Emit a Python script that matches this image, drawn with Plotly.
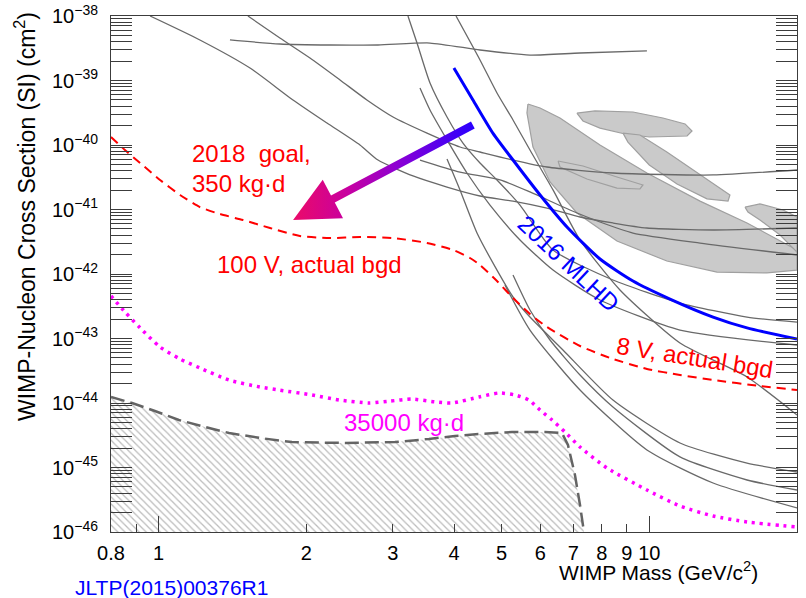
import math
import plotly.graph_objects as go

# ---------------- data (WIMP mass in GeV/c^2, cross section in cm^2) ----------------
RED_M = [0.8, 0.854, 0.917, 1.007, 1.106, 1.214, 1.334, 1.486, 1.687, 1.941, 2.235, 2.573, 3.005,
         3.524, 3.981, 4.311, 4.519, 4.894, 5.276, 5.713, 6.187, 7.225, 8.316, 9.89, 11.55, 13.49, 16.81, 20]
RED_S = [1.33e-40, 8.36e-41, 5.26e-41, 2.87e-41, 1.68e-41, 1.09e-41, 8.51e-42, 6.87e-42, 5.16e-42,
         3.88e-42, 3.61e-42, 3.75e-42, 3.61e-42, 3.03e-42, 2.36e-42, 1.77e-42, 1.38e-42, 7.79e-43,
         4.25e-43, 2.40e-43, 1.51e-43, 7.65e-44, 4.99e-44, 3.37e-44, 2.72e-44, 2.27e-44, 1.84e-44, 1.59e-44]

MAG_M = [0.8, 0.854, 0.917, 1.007, 1.106, 1.214, 1.392, 1.609, 1.759, 2.054, 2.343, 2.684, 2.962, 3.284,
         3.659, 3.963, 4.498, 4.94, 5.326, 5.686, 5.99, 6.336, 6.733, 7.225, 8.2, 9.89, 11.55, 13.49, 15.82, 20]
MAG_S = [4.56e-43, 2.58e-43, 1.46e-43, 7.38e-44, 4.81e-44, 3.49e-44, 2.27e-44, 1.77e-44, 1.59e-44, 1.33e-44,
         1.11e-44, 1.0e-44, 1.07e-44, 1.15e-44, 1.04e-44, 1.0e-44, 1.24e-44, 1.43e-44, 1.33e-44, 1.11e-44,
         7.78e-45, 5.45e-45, 3.55e-45, 2.08e-45, 9.82e-46, 4.48e-46, 2.53e-46, 1.77e-46, 1.43e-46, 1.20e-46]

FLOOR_M = [0.8, 0.883, 0.983, 1.10, 1.243, 1.392, 1.609, 1.870, 2.398, 3.032, 3.557, 4.018, 4.498,
           5.251, 6.131, 6.639, 6.828, 7.056, 7.225, 7.36]
FLOOR_S = [1.24e-44, 1.0e-44, 7.52e-45, 5.45e-45, 4.25e-45, 3.43e-45, 2.87e-45, 2.48e-45, 2.40e-45,
           2.48e-45, 2.77e-45, 3.08e-45, 3.30e-45, 3.55e-45, 3.55e-45, 3.43e-45, 2.23e-45, 7.65e-46,
           2.62e-46, 1.0e-46]

MLHD_M = [3.998, 4.372, 4.80, 5.276, 5.99, 6.797, 7.935, 9.264, 11.02, 13.49, 15.82, 20]
MLHD_S = [1.56e-39, 4.99e-40, 1.53e-40, 5.85e-41, 1.68e-41, 5.36e-42, 1.71e-42, 7.79e-43, 4.09e-43,
          2.15e-43, 1.46e-43, 9.82e-44]

# other experiments (gray)
G1_M = [0.961, 1.214, 1.536, 1.879, 2.204, 2.573, 2.800, 3.300, 3.871, 4.519, 5.276, 6.187, 7.225, 8.433, 9.89, 13.49, 20]
G1_S = [1.0e-38, 4.25e-39, 1.56e-39, 4.99e-40, 2.19e-40, 1.0e-40, 5.85e-41, 3.31e-41, 2.23e-41, 1.62e-41,
        1.35e-41, 1.05e-41, 7.65e-42, 6.18e-42, 5.17e-42, 4.81e-42, 5.17e-42]
G2_M = [1.398, 1.767, 2.235, 2.800, 3.574, 4.519, 5.713, 7.225, 9.89]
G2_S = [4.25e-39, 3.68e-39, 3.55e-39, 3.55e-39, 3.81e-39, 2.97e-39, 2.48e-39, 2.67e-39, 2.87e-39]
G3_M = [1.521, 1.767, 2.035, 2.343, 2.658, 3.005, 3.524, 4.114, 4.519, 5.276, 6.187, 8.433, 13.49, 20]
G3_S = [1.0e-38, 4.56e-39, 2.23e-39, 1.02e-39, 4.99e-40, 2.72e-40, 1.53e-40, 9.31e-41, 7.79e-41, 5.85e-41,
        4.56e-41, 3.68e-41, 3.43e-41, 4.10e-41]
G4_M = [3.410, 4.114, 4.964, 5.713, 6.893, 7.935, 9.264, 12.69, 20]
G4_S = [5.85e-41, 3.81e-41, 2.87e-41, 1.87e-41, 9.82e-42, 6.40e-42, 4.32e-42, 3.02e-42, 1.97e-42]
G5_M = [3.223, 3.363, 3.574, 3.871, 4.172, 4.519, 4.894, 5.452, 6.366, 8.433, 11.55, 15.82, 20]
G5_S = [1.0e-38, 3.81e-39, 9.15e-40, 2.72e-40, 1.07e-40, 5.26e-41, 2.87e-41, 1.17e-41, 2.36e-42, 8.07e-43,
        3.55e-43, 2.15e-43, 1.80e-43]
G6_M = [4.038, 4.519, 4.894, 5.276, 5.713, 6.366, 7.225, 8.715, 11.55, 15.82, 20]
G6_S = [1.0e-38, 2.08e-39, 6.40e-40, 2.44e-40, 8.36e-41, 2.01e-41, 3.37e-42, 5.65e-43, 8.51e-44, 2.53e-44, 6.52e-45]
G7_M = [3.871, 4.114, 4.456, 4.894, 5.276, 5.713, 6.670, 8.433, 11.55, 15.82, 20]
G7_S = [6.07e-41, 2.01e-41, 4.32e-42, 1.15e-42, 4.40e-43, 2.15e-43, 6.63e-44, 1.11e-44, 2.40e-45, 1.17e-45, 8.51e-46]
G8_M = [5.276, 5.713, 6.276, 7.225, 8.433, 11.55, 15.82, 20]
G8_S = [9.65e-43, 2.77e-43, 9.48e-44, 2.72e-44, 8.67e-45, 1.46e-45, 6.40e-46, 4.48e-46]
G9_M = [5.08, 5.713, 7.225, 9.89, 13.49, 20]
G9_S = [6.75e-43, 1.35e-43, 1.59e-44, 1.87e-45, 5.75e-46, 2.36e-46]
G10_M = [3.410, 3.574, 3.871, 4.251, 4.736, 5.452, 6.366, 7.935, 11.55, 20]
G10_S = [7.65e-40, 3.49e-40, 1.20e-40, 3.68e-41, 1.17e-41, 3.37e-42, 1.15e-42, 3.95e-43, 1.35e-43, 7.93e-44]

# signal regions (closed contours)
R1_M = [5.659, 5.99, 6.577, 7.935, 9.89, 12.69, 15.82, 20, 20, 17.37, 13.74, 10.86, 8.593, 7.121, 6.276, 5.794, 5.633]
R1_S = [4.32e-40, 3.75e-40, 2.62e-40, 1.0e-40, 3.68e-41, 1.35e-41, 6.18e-42, 2.36e-42, 1.15e-42, 1.04e-42,
        1.07e-42, 1.59e-42, 3.25e-42, 8.83e-42, 2.67e-41, 9.31e-41, 3.13e-40]
R2_M = [7.121, 7.75, 9.264, 10.66, 11.83, 12.22, 11.94, 10.0, 8.923, 7.935, 7.326]
R2_S = [3.13e-40, 3.37e-40, 3.25e-40, 2.62e-40, 2.12e-40, 1.65e-40, 1.38e-40, 1.33e-40, 1.48e-40, 1.83e-40, 2.36e-40]
R3_M = [8.840, 9.572, 10.86, 12.69, 14.60, 14.47, 13.11, 11.39, 10.0, 9.046]
R3_S = [1.53e-40, 1.43e-40, 7.79e-41, 3.43e-41, 1.68e-41, 1.35e-41, 1.46e-41, 2.48e-41, 4.90e-41, 1.11e-40]
R4_M = [15.67, 16.81, 18.73, 20, 20, 18.47, 16.81, 15.89]
R4_S = [1.09e-41, 1.22e-41, 9.82e-42, 7.65e-42, 2.19e-42, 4.02e-42, 6.87e-42, 9.15e-42]
R5_M = [6.517, 7.326, 8.593, 9.707, 9.572, 8.593, 7.464, 6.577]
R5_S = [5.65e-41, 4.72e-41, 3.19e-41, 2.40e-41, 2.08e-41, 2.15e-41, 2.97e-41, 4.56e-41]

X_TICKS = [0.8, 0.9, 1, 2, 3, 4, 5, 6, 7, 8, 9, 10, 20]
X_TICKTEXT = ["0.8", "", "1", "2", "3", "4", "5", "6", "7", "8", "9", "10", "20"]
X_MAJOR = [1, 10]
X_RANGE = (0.8, 20)
Y_DECADES = list(range(-46, -37))          # 10^-46 ... 10^-38

# arrow (annotation) end points in data units
ARROW_TAIL = (4.37, 2.04e-40)
ARROW_TIP = (1.88, 6.87e-42)

# ---------------- layout geometry ----------------
W, H = 806, 598
L, R, T, B = 111, 797, 16, 532
FONT = "Liberation Sans, Arial, Helvetica, sans-serif"

lx0, lx1 = math.log10(X_RANGE[0]), math.log10(X_RANGE[1])
ly0, ly1 = Y_DECADES[0], Y_DECADES[-1]
Y_MIN = 10.0 ** ly0
Y_TICKVALS = [10.0 ** e for e in Y_DECADES]
Y_TICKTEXT = ["10<sup>\u2212%d</sup>" % (-e) for e in Y_DECADES]
Y_MINOR = [k * 10.0 ** e for e in Y_DECADES[:-1] for k in range(2, 10)]


def d2p(m, s):
    px = L + (math.log10(m) - lx0) / (lx1 - lx0) * (R - L)
    py = B - (math.log10(s) - ly0) / (ly1 - ly0) * (B - T)
    return px, py


def p2d(px, py):
    m = 10 ** (lx0 + (px - L) / (R - L) * (lx1 - lx0))
    s = 10 ** (ly0 + (B - py) / (B - T) * (ly1 - ly0))
    return m, s


def paper(px, py):
    return (px - L) / (R - L), (B - py) / (B - T)


GRAY = "rgb(105,105,105)"
fig = go.Figure()

# hatched excluded region (neutrino floor)
fig.add_trace(go.Scatter(
    x=FLOOR_M + [X_RANGE[0]], y=FLOOR_S + [Y_MIN], mode="none", fill="toself",
    fillcolor="rgba(0,0,0,0)",
    fillpattern=dict(shape="\\", fgcolor="rgb(120,120,120)", bgcolor="white", size=5, solidity=0.25),
    hoverinfo="skip", showlegend=False))

# signal regions
for rm, rs in [(R1_M, R1_S), (R2_M, R2_S), (R3_M, R3_S), (R4_M, R4_S), (R5_M, R5_S)]:
    fig.add_trace(go.Scatter(x=rm + rm[:1], y=rs + rs[:1], mode="lines", fill="toself",
                             fillcolor="rgb(202,202,202)", line=dict(color="rgb(160,160,160)", width=1.2),
                             hoverinfo="skip", showlegend=False))

# gray limit curves
for gm, gs in [(G1_M, G1_S), (G2_M, G2_S), (G3_M, G3_S), (G4_M, G4_S), (G5_M, G5_S), (G6_M, G6_S),
               (G7_M, G7_S), (G8_M, G8_S), (G9_M, G9_S), (G10_M, G10_S)]:
    fig.add_trace(go.Scatter(x=gm, y=gs, mode="lines", line=dict(color=GRAY, width=1.3, shape="spline", smoothing=0.6),
                             hoverinfo="skip", showlegend=False))

# floor dashed curve
fig.add_trace(go.Scatter(x=FLOOR_M, y=FLOOR_S, mode="lines",
                         line=dict(color="rgb(100,100,100)", width=2.5, dash="14px,6px"),
                         hoverinfo="skip", showlegend=False))

# magenta projection
fig.add_trace(go.Scatter(x=MAG_M, y=MAG_S, mode="lines",
                         line=dict(color="rgb(255,0,255)", width=3.5, dash="3px,5px", shape="spline", smoothing=0.6),
                         hoverinfo="skip", showlegend=False))
# red projection
fig.add_trace(go.Scatter(x=RED_M, y=RED_S, mode="lines",
                         line=dict(color="rgb(255,0,0)", width=2, dash="9px,6px", shape="spline", smoothing=0.6),
                         hoverinfo="skip", showlegend=False))
# blue 2016 MLHD (on overlay axis x2, identical scale)
fig.add_trace(go.Scatter(x=MLHD_M, y=MLHD_S, mode="lines", xaxis="x2",
                         line=dict(color="rgb(0,0,255)", width=3, shape="spline", smoothing=0.6),
                         hoverinfo="skip", showlegend=False))

# gradient arrow
sx, sy = d2p(*ARROW_TAIL)
tx, ty = d2p(*ARROW_TIP)
ln = math.hypot(tx - sx, ty - sy)
dx, dy = (tx - sx) / ln, (ty - sy) / ln
nx, ny = -dy, dx
hw, hh, hl = 4.0, 21.7, 45.0
bx, by = tx - dx * hl, ty - dy * hl
pts = [(sx + nx * hw, sy + ny * hw), (bx + nx * hw, by + ny * hw), (bx + nx * hh, by + ny * hh), (tx, ty),
       (bx - nx * hh, by - ny * hh), (bx - nx * hw, by - ny * hw), (sx - nx * hw, sy - ny * hw),
       (sx + nx * hw, sy + ny * hw)]
ad = [p2d(px, py) for px, py in pts]
fig.add_trace(go.Scatter(
    x=[a[0] for a in ad], y=[a[1] for a in ad], mode="lines", line=dict(width=0), fill="toself",
    fillgradient=dict(type="horizontal", colorscale=[[0, "rgb(235,10,105)"], [0.3, "rgb(200,0,160)"],
                                                     [0.6, "rgb(135,0,215)"], [1, "rgb(40,0,255)"]]),
    hoverinfo="skip", showlegend=False))

# ---------------- annotations ----------------
ann = []


def text(px, py, s, color, size=24, xanchor="left", angle=0):
    x, y = paper(px, py)
    ann.append(dict(x=x, y=y, xref="paper", yref="paper", text=s, showarrow=False, xanchor=xanchor,
                    yanchor="middle", textangle=angle, font=dict(family=FONT, size=size, color=color)))


text(190, 153, "2018  goal,", "rgb(255,0,0)")
text(190, 183, "350 kg·d", "rgb(255,0,0)")
text(215, 264, "100 V, actual bgd", "rgb(255,0,0)")
text(695, 357, "8 V, actual bgd", "rgb(255,0,0)", xanchor="center", angle=9)
text(342, 422, "35000 kg·d", "rgb(255,0,255)")
text(569, 263, "2016 MLHD", "rgb(0,0,255)", xanchor="center", angle=43)
text(760, 571, "WIMP Mass (GeV/c<sup>2</sup>)", "black", size=21, xanchor="right")
text(25, 217, "WIMP-Nucleon Cross Section (SI) (cm<sup>2</sup>)", "black", size=23, xanchor="center", angle=-90)
text(73, 587, "JLTP(2015)00376R1", "rgb(0,0,255)", size=21)

AX = "rgb(60,60,60)"
fig.update_layout(
    width=W, height=H, autosize=False,
    margin=dict(l=L, r=W - R, t=T, b=H - B, pad=0),
    paper_bgcolor="white", plot_bgcolor="white",
    font=dict(family=FONT, color="black"),
    showlegend=False,
    annotations=ann,
    xaxis=dict(type="log", range=[lx0, lx1], tickvals=X_TICKS, ticktext=X_TICKTEXT,
               ticks="inside", ticklen=8, tickwidth=1, tickcolor=AX, showline=True, linecolor=AX, linewidth=1,
               mirror=True, showgrid=False, zeroline=False, automargin=False,
               tickfont=dict(family=FONT, size=20, color="black"), ticklabelstandoff=3),
    xaxis2=dict(type="log", range=[lx0, lx1], overlaying="x", anchor="y", side="bottom", tickvals=X_MAJOR,
                ticks="inside", ticklen=16, tickwidth=1, tickcolor=AX, showticklabels=False, showline=False,
                showgrid=False, zeroline=False, automargin=False),
    yaxis=dict(type="log", range=[ly0, ly1], tickmode="array", tickvals=Y_TICKVALS, ticktext=Y_TICKTEXT,
               ticks="inside", ticklen=21, tickwidth=1, tickcolor=AX,
               minor=dict(ticks="inside", ticklen=10, tickwidth=1, tickcolor=AX, tickmode="array",
                          tickvals=Y_MINOR, showgrid=False),
               showline=True, linecolor=AX, linewidth=1, mirror="allticks", showgrid=False, zeroline=False,
               automargin=False, tickfont=dict(family=FONT, size=20, color="black"), ticklabelstandoff=8),
)

fig.write_html("out.html")
